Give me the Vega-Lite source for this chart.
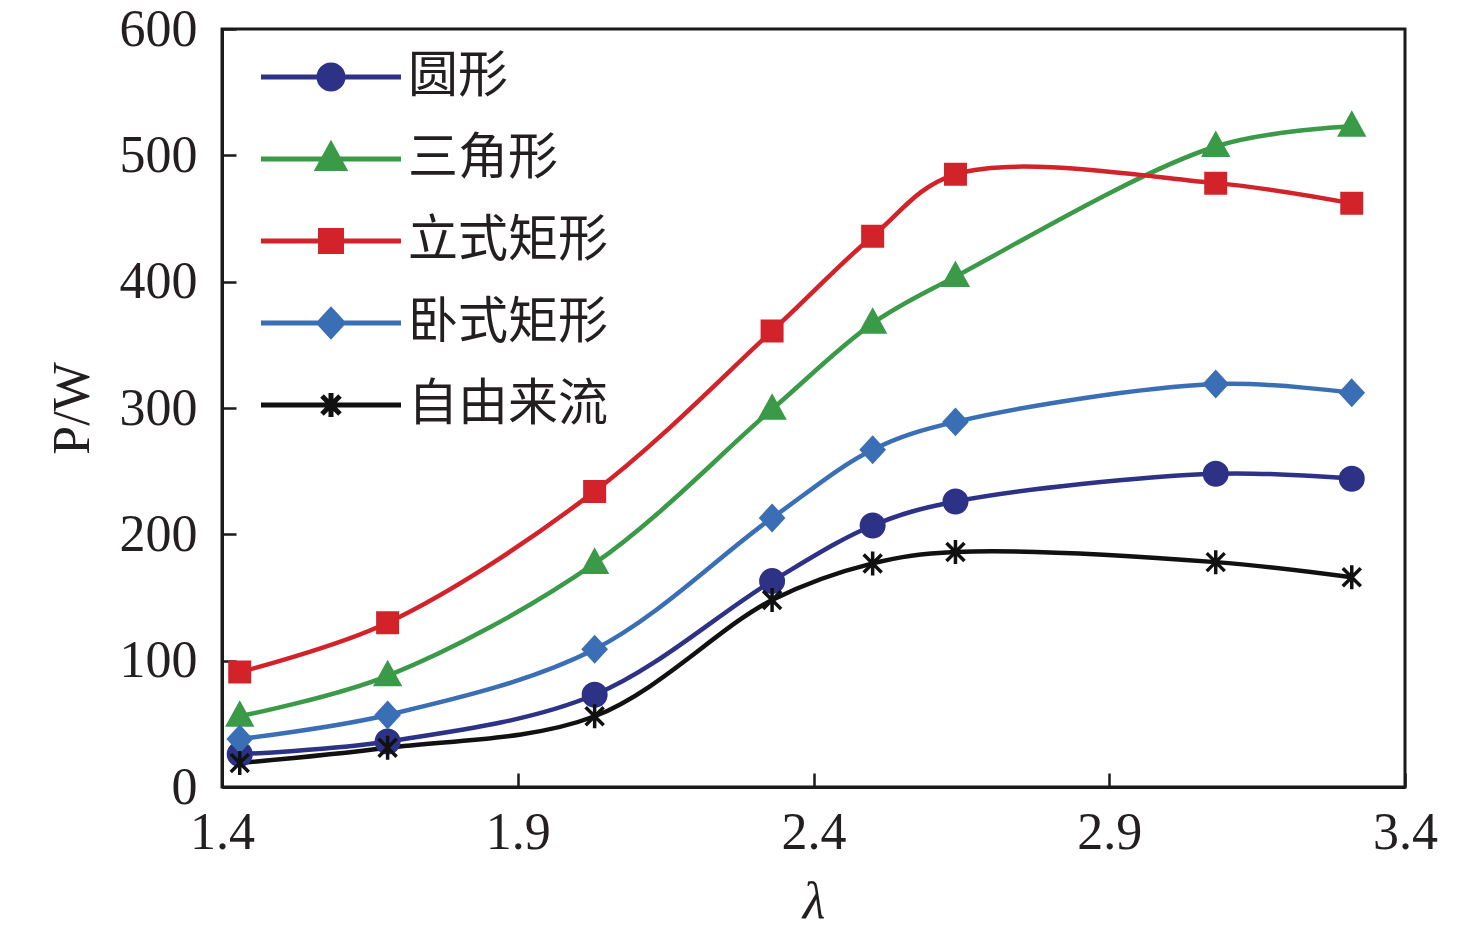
{
  "$schema": "https://vega.github.io/schema/vega-lite/v6.json",
  "width": 1183,
  "height": 758,
  "autosize": {"type": "none"},
  "padding": {"left": 222, "top": 29, "right": 71, "bottom": 157},
  "background": "white",
  "config": {
    "view": {"stroke": "#1a1a1a", "strokeWidth": 3},
    "font": "Liberation Serif",
    "axis": {
      "grid": false,
      "domainColor": "#1a1a1a",
      "domainWidth": 3,
      "tickColor": "#1a1a1a",
      "tickWidth": 2.5,
      "tickSize": -14,
      "labelFont": "Liberation Serif",
      "labelFontSize": 52,
      "labelColor": "#231f20",
      "titleFont": "Liberation Serif",
      "titleFontSize": 52,
      "titleFontWeight": "normal",
      "titleColor": "#231f20"
    }
  },
  "data": {
    "values": [
      {"lam": 1.43, "P": 26, "s": "圆形"},
      {"lam": 1.68, "P": 36, "s": "圆形"},
      {"lam": 2.03, "P": 73, "s": "圆形"},
      {"lam": 2.33, "P": 163, "s": "圆形"},
      {"lam": 2.50, "P": 207, "s": "圆形"},
      {"lam": 2.64, "P": 226, "s": "圆形"},
      {"lam": 3.08, "P": 248, "s": "圆形"},
      {"lam": 3.31, "P": 244, "s": "圆形"},
      {"lam": 1.43, "P": 56, "s": "三角形"},
      {"lam": 1.68, "P": 88, "s": "三角形"},
      {"lam": 2.03, "P": 177, "s": "三角形"},
      {"lam": 2.33, "P": 299, "s": "三角形"},
      {"lam": 2.50, "P": 367, "s": "三角形"},
      {"lam": 2.64, "P": 404, "s": "三角形"},
      {"lam": 3.08, "P": 507, "s": "三角形"},
      {"lam": 3.31, "P": 523, "s": "三角形"},
      {"lam": 1.43, "P": 91, "s": "立式矩形"},
      {"lam": 1.68, "P": 130, "s": "立式矩形"},
      {"lam": 2.03, "P": 234, "s": "立式矩形"},
      {"lam": 2.33, "P": 361, "s": "立式矩形"},
      {"lam": 2.50, "P": 436, "s": "立式矩形"},
      {"lam": 2.64, "P": 485, "s": "立式矩形"},
      {"lam": 3.08, "P": 478, "s": "立式矩形"},
      {"lam": 3.31, "P": 462, "s": "立式矩形"},
      {"lam": 1.43, "P": 38, "s": "卧式矩形"},
      {"lam": 1.68, "P": 57, "s": "卧式矩形"},
      {"lam": 2.03, "P": 109, "s": "卧式矩形"},
      {"lam": 2.33, "P": 213, "s": "卧式矩形"},
      {"lam": 2.50, "P": 267, "s": "卧式矩形"},
      {"lam": 2.64, "P": 289, "s": "卧式矩形"},
      {"lam": 3.08, "P": 319, "s": "卧式矩形"},
      {"lam": 3.31, "P": 312, "s": "卧式矩形"},
      {"lam": 1.43, "P": 19, "s": "自由来流"},
      {"lam": 1.68, "P": 31, "s": "自由来流"},
      {"lam": 2.03, "P": 56, "s": "自由来流"},
      {"lam": 2.33, "P": 148, "s": "自由来流"},
      {"lam": 2.50, "P": 177, "s": "自由来流"},
      {"lam": 2.64, "P": 186, "s": "自由来流"},
      {"lam": 3.08, "P": 178, "s": "自由来流"},
      {"lam": 3.31, "P": 166, "s": "自由来流"}
    ]
  },
  "encoding": {
    "x": {
      "field": "lam",
      "type": "quantitative",
      "scale": {"domain": [1.4, 3.4], "nice": false, "zero": false},
      "axis": {
        "title": "λ",
        "titleFontStyle": "italic",
        "titlePadding": 18,
        "values": [1.4, 1.9, 2.4, 2.9, 3.4],
        "format": ".1f",
        "labelPadding": 34,
        "labelFlush": false
      }
    },
    "y": {
      "field": "P",
      "type": "quantitative",
      "scale": {"domain": [0, 600], "nice": false},
      "axis": {
        "title": "P/W",
        "titlePadding": 20,
        "values": [0, 100, 200, 300, 400, 500, 600],
        "labelPadding": 39,
        "labelFlush": false
      }
    }
  },
  "layer": [
    {
      "mark": {"type": "line", "interpolate": "catmull-rom", "strokeWidth": 4.5},
      "encoding": {
        "color": {
          "field": "s",
          "type": "nominal",
          "scale": {
            "domain": ["圆形", "三角形", "立式矩形", "卧式矩形", "自由来流"],
            "range": ["#2d3286", "#3a9a47", "#d2232a", "#3a6fb6", "#111111"]
          },
          "legend": {
            "title": null,
            "orient": "none",
            "legendX": 84,
            "legendY": 23,
            "padding": 0,
            "symbolSize": 400,
            "symbolStrokeWidth": 5,
            "labelOffset": 52,
            "rowPadding": 32,
            "labelFont": "Noto Sans CJK SC",
            "labelFontSize": 50,
            "labelColor": "#231f20",
            "labelLimit": 400,
            "encode": {
              "symbols": {
                "update": {
                  "shape": {"signal": "datum.value === '圆形' ? 'M-7,0H7M1.2,0A1.2,1.2,0,1,1,-1.2,0A1.2,1.2,0,1,1,1.2,0Z' : datum.value === '三角形' ? 'M-7,0H7M0,-1.4L1.3,0.95L-1.3,0.95Z' : datum.value === '立式矩形' ? 'M-7,0H7M-1.05,-1.05H1.05V1.05H-1.05Z' : datum.value === '卧式矩形' ? 'M-7,0H7M0,-1.3L1.2,0L0,1.3L-1.2,0Z' : 'M-7,0H7M0,-1.2V1.2M-0.9,-0.9L0.9,0.9M-0.9,0.9L0.9,-0.9'"},
                  "fill": {"signal": "scale('color', datum.value)"},
                  "stroke": {"signal": "scale('color', datum.value)"},
                  "opacity": {"value": 1}
                }
              }
            }
          }
        }
      }
    },
    {
      "transform": [{"filter": "datum.s === '圆形'"}],
      "mark": {"type": "point", "shape": "M1.2,0A1.2,1.2,0,1,1,-1.2,0A1.2,1.2,0,1,1,1.2,0Z", "size": 400, "filled": true, "fill": "#2d3286", "stroke": "#2d3286", "strokeWidth": 2, "opacity": 1}
    },
    {
      "transform": [{"filter": "datum.s === '三角形'"}],
      "mark": {"type": "point", "shape": "M0,-1.4L1.3,0.95L-1.3,0.95Z", "size": 400, "filled": true, "fill": "#3a9a47", "stroke": "#3a9a47", "strokeWidth": 2, "opacity": 1}
    },
    {
      "transform": [{"filter": "datum.s === '立式矩形'"}],
      "mark": {"type": "point", "shape": "M-1.05,-1.05H1.05V1.05H-1.05Z", "size": 400, "filled": true, "fill": "#d2232a", "stroke": "#d2232a", "strokeWidth": 2, "opacity": 1}
    },
    {
      "transform": [{"filter": "datum.s === '卧式矩形'"}],
      "mark": {"type": "point", "shape": "M0,-1.3L1.2,0L0,1.3L-1.2,0Z", "size": 400, "filled": true, "fill": "#3a6fb6", "stroke": "#3a6fb6", "strokeWidth": 2, "opacity": 1}
    },
    {
      "transform": [{"filter": "datum.s === '自由来流'"}],
      "mark": {"type": "point", "shape": "M0,-1.2V1.2M-0.9,-0.9L0.9,0.9M-0.9,0.9L0.9,-0.9", "size": 400, "filled": false, "stroke": "#111111", "strokeWidth": 3.5, "opacity": 1}
    }
  ]
}
